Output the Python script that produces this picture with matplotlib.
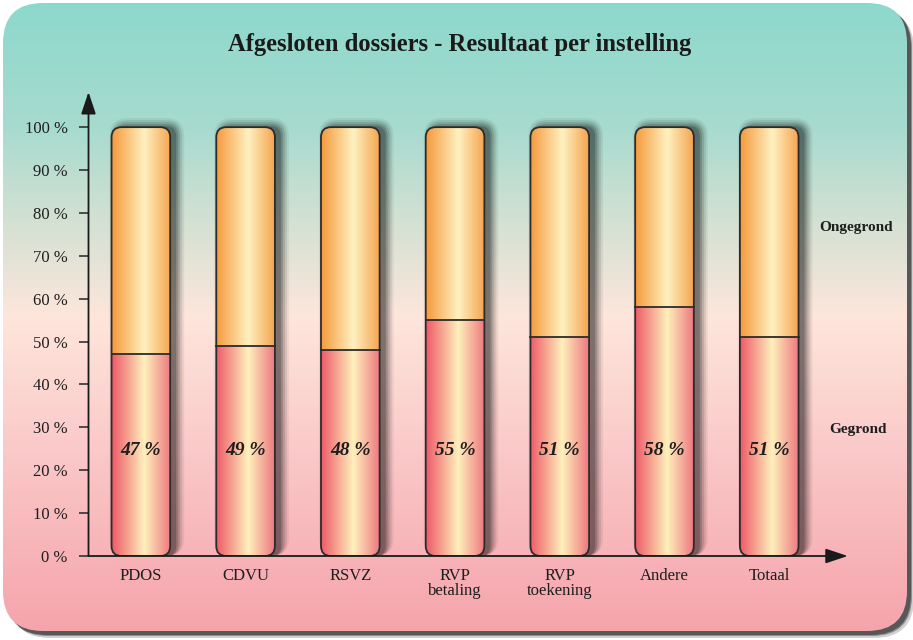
import numpy as np
import matplotlib.pyplot as plt
from matplotlib.patches import FancyBboxPatch
from matplotlib.colors import LinearSegmentedColormap

# data
categories = ['PDOS', 'CDVU', 'RSVZ', 'RVP\nbetaling', 'RVP\ntoekening', 'Andere', 'Totaal']
gegrond = [47, 49, 48, 55, 51, 58, 51]
ongegrond = [53, 51, 52, 45, 49, 42, 49]
yticks = [0, 10, 20, 30, 40, 50, 60, 70, 80, 90, 100]
ytick_labels = ['0 %', '10 %', '20 %', '30 %', '40 %', '50 %', '60 %', '70 %', '80 %', '90 %', '100 %']

plt.rcParams['font.family'] = ['Liberation Serif', 'DejaVu Serif']
W, H = 913, 640
fig = plt.figure(figsize=(W / 100, H / 100), dpi=100)
fig.patch.set_facecolor('white')

# background panel with vertical gradient
bg = fig.add_axes([0, 0, 1, 1])
bg.axis('off')
for off, a in [(7, 0.25), (5, 0.5), (4, 0.8)]:
    bg.add_patch(FancyBboxPatch((3 + off, 3 + off), 904, 628,
                                boxstyle='round,pad=0,rounding_size=40',
                                fc='#4a4a4a', ec='none', alpha=a, zorder=0))
panel = FancyBboxPatch((3, 3), 904, 628, boxstyle='round,pad=0,rounding_size=40',
                       fc='none', ec='none')
bg.add_patch(panel)
bg_cmap = LinearSegmentedColormap.from_list('bg', [
    (0.0, (141/255, 216/255, 204/255)),
    (0.2, (168/255, 219/255, 207/255)),
    (0.35, (212/255, 225/255, 211/255)),
    (0.5, (254/255, 230/255, 220/255)),
    (0.72, (250/255, 200/255, 200/255)),
    (1.0, (245/255, 164/255, 172/255)),
])
grad_v = np.linspace(0, 1, 256).reshape(-1, 1)
im = bg.imshow(grad_v, cmap=bg_cmap, extent=(3, 907, 631, 3), aspect='auto',
               origin='upper', interpolation='bilinear', zorder=1)
im.set_clip_path(panel)
bg.set_xlim(0, W)
bg.set_ylim(H, 0)

# main axes
left_px, right_px, bottom_px, top_px = 88.5, 853, 556, 92
ax = fig.add_axes([left_px / W, 1 - bottom_px / H, (right_px - left_px) / W, (bottom_px - top_px) / H])
ax.patch.set_alpha(0)
xmin, xmax, ymin, ymax = -0.5, 6.8, 0, 108.2
ax.set_xlim(xmin, xmax)
ax.set_ylim(ymin, ymax)
xpx = (right_px - left_px) / (xmax - xmin)
ypx = (bottom_px - top_px) / (ymax - ymin)
asp = xpx / ypx

bw = 0.56
r = 10 / xpx

orange = LinearSegmentedColormap.from_list('or', [
    (0.0, '#f59a3c'), (0.55, '#fff1c0'), (1.0, '#f5a450')])
pink = LinearSegmentedColormap.from_list('pk', [
    (0.0, '#ee5a68'), (0.55, '#fff0bc'), (1.0, '#ee7880')])
grad_h = np.linspace(0, 1, 128).reshape(1, -1)

for i, g in enumerate(gegrond):
    x0 = i - bw / 2
    # soft shadow, shifted to the right
    for s, a in [(8, 0.06), (6, 0.09), (4, 0.12), (2, 0.16), (0, 0.2)]:
        ax.add_patch(FancyBboxPatch((x0 + (6 - s) / xpx, 0), bw + 2 * s / xpx, 100 + (s + 1) / ypx,
                                    boxstyle=f'round,pad=0,rounding_size={r + s / xpx}',
                                    mutation_aspect=asp, fc='black', ec='none', alpha=a, zorder=2))
    bar = FancyBboxPatch((x0, 0), bw, 100, boxstyle=f'round,pad=0,rounding_size={r}',
                         mutation_aspect=asp, fc='none', ec='#2b2b2b', lw=1.3, zorder=5)
    ax.add_patch(bar)
    top = ax.imshow(grad_h, cmap=orange, extent=(x0, x0 + bw, g, 100), aspect='auto',
                    interpolation='bilinear', zorder=3)
    top.set_clip_path(bar)
    bot = ax.imshow(grad_h, cmap=pink, extent=(x0, x0 + bw, 0, g), aspect='auto',
                    interpolation='bilinear', zorder=3)
    bot.set_clip_path(bar)
    ax.plot([x0, x0 + bw], [g, g], color='#2b2b2b', lw=1.3, zorder=5)
    ax.text(i, 24.5, f'{g} %', ha='center', va='center', fontsize=14,
            fontweight='bold', fontstyle='italic', color='#1e1e1e', zorder=6)

ax.set_xlim(xmin, xmax)
ax.set_ylim(ymin, ymax)

for sp in ax.spines.values():
    sp.set_visible(False)
ax.annotate('', xy=(0, 1), xytext=(0, 0), xycoords='axes fraction',
            arrowprops=dict(arrowstyle='-|>,head_length=0.9,head_width=0.3', color='#1a1a1a',
                            lw=1.3, shrinkA=0, shrinkB=0, mutation_scale=15))
ax.annotate('', xy=(6.75, 0), xytext=(xmin, 0), xycoords='data',
            arrowprops=dict(arrowstyle='-|>,head_length=0.9,head_width=0.3', color='#1a1a1a',
                            lw=1.3, shrinkA=0, shrinkB=0, mutation_scale=15), zorder=6)

ax.set_yticks(yticks, ytick_labels)
ax.tick_params(axis='y', direction='out', length=7, width=1.2, pad=8, labelsize=12,
               color='#333333', labelcolor='#1e1e1e')
ax.set_xticks(range(len(categories)), categories)
ax.tick_params(axis='x', length=0, pad=9, labelsize=12, labelcolor='#1e1e1e')
for lab in ax.get_xticklabels():
    lab.set_linespacing(0.85)

ax.text(6.83, 76.5, 'Ongegrond', ha='center', va='center', fontsize=11,
        fontweight='bold', color='#1e1e1e', clip_on=False)
ax.text(6.85, 29.5, 'Gegrond', ha='center', va='center', fontsize=11,
        fontweight='bold', color='#1e1e1e', clip_on=False)

fig.text(460 / W, 1 - 45 / H, 'Afgesloten dossiers - Resultaat per instelling',
         ha='center', va='center', fontsize=17.7, fontweight='bold', color='#1a1a1a')

fig.savefig('out.png', dpi=100)
